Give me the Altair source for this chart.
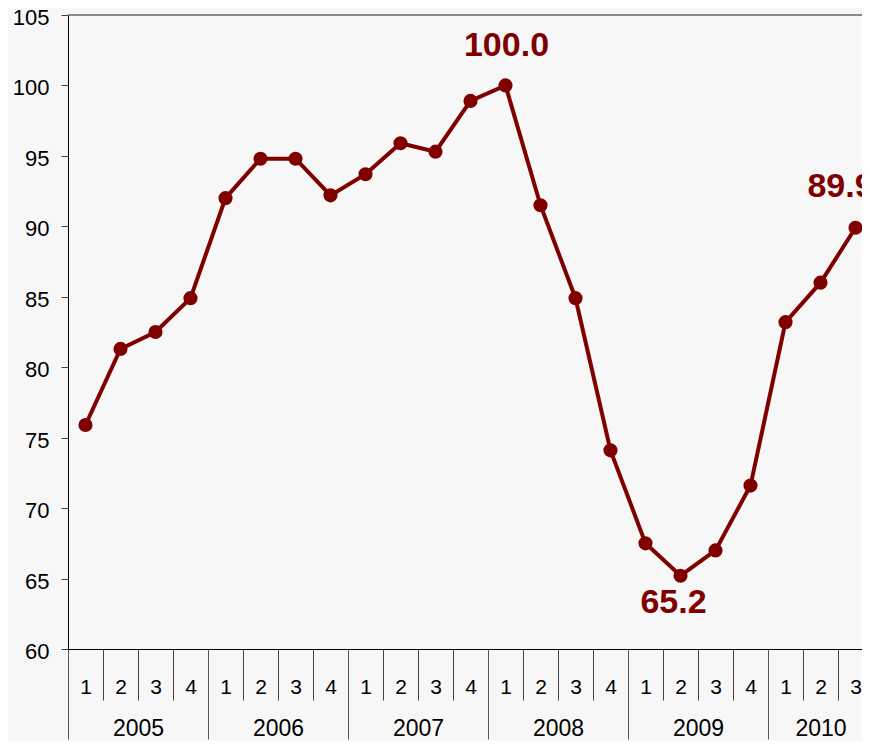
import altair as alt
import pandas as pd

# ---- data ----
years = ["2005", "2006", "2007", "2008", "2009", "2010"]
quarters_per_year = [4, 4, 4, 4, 4, 3]
values = [75.9, 81.3, 82.5, 84.9,
          92.0, 94.8, 94.8, 92.2,
          93.7, 95.9, 95.3, 98.9,
          100.0, 91.5, 84.9, 74.1,
          67.5, 65.2, 67.0, 71.6,
          83.2, 86.0, 89.9]
annotated_idx = [12, 17, 22]   # max, min, last

# ---- build table ----
rows = []
i = 0
for y, n in zip(years, quarters_per_year):
    for q in range(1, n + 1):
        rows.append({"year": y, "quarter": str(q), "pos": i + 0.5, "value": values[i]})
        i += 1
df = pd.DataFrame(rows)
df["label"] = df["value"].map(lambda v: f"{v:.1f}")

n_q = len(df)
quarter_labels = list(df["quarter"])
year_starts = []
s = 0
for n in quarters_per_year:
    year_starts.append(s)
    s += n
year_centers = [st + n / 2 for st, n in zip(year_starts, quarters_per_year)]

RED = "#800000"
FONT = "Liberation Sans"
W = 794
QW = 35.0  # pixel width of one quarter

xscale = alt.Scale(domain=[0, W / QW], nice=False, zero=False)
yscale = alt.Scale(domain=[60, 105], nice=False, zero=False)

y_axis = alt.Axis(values=list(range(60, 106, 5)), tickSize=7, labelPadding=12,
                  labelFontSize=22, labelFont=FONT, labelColor="#000",
                  labelOffset=2.5,
                  tickColor="#444", domainColor="#000", domainWidth=1,
                  grid=False, title=None)

ax_qticks = alt.Axis(orient="bottom", values=list(range(1, n_q)), tickSize=51,
                     tickColor="#444", tickWidth=1, labels=False, domain=True,
                     domainColor="#000", domainWidth=1, grid=False, title=None)
ax_yticks = alt.Axis(orient="bottom", values=year_starts, tickSize=90,
                     tickColor="#555", tickWidth=1, labels=False, domain=False,
                     grid=False, title=None)
q_arr = "[" + ",".join(f"'{q}'" for q in quarter_labels) + "]"
ax_qlabels = alt.Axis(orient="bottom", values=[k + 0.5 for k in range(n_q)],
                      ticks=False, domain=False, grid=False, title=None,
                      labelExpr=f"{q_arr}[floor(datum.value)]",
                      labelPadding=44, labelBaseline="alphabetic",
                      labelFontSize=21, labelFont=FONT, labelColor="#000",
                      labelFlush=False, labelOverlap=False)
y_arr = "[" + ",".join(f"'{y}'" for y in years) + "]"
ax_ylabels = alt.Axis(orient="bottom", values=year_centers,
                      ticks=False, domain=False, grid=False, title=None,
                      labelExpr=f"{y_arr}[floor(datum.value / 4)]",
                      labelPadding=86, labelBaseline="alphabetic",
                      labelFontSize=23, labelFont=FONT, labelColor="#000",
                      labelFlush=False, labelOverlap=False)

base = alt.Chart(df)

line = base.mark_line(color=RED, strokeWidth=4).encode(
    x=alt.X("pos:Q", scale=xscale, axis=ax_qticks),
    y=alt.Y("value:Q", scale=yscale, axis=y_axis))

top_rule = alt.Chart(pd.DataFrame({"v": [105]})).mark_rule(
    color="#666", strokeWidth=1.5).encode(
    y=alt.Y("v:Q", scale=yscale, axis=y_axis))

pts = base.mark_point(filled=True, color=RED, size=200, opacity=1).encode(
    x=alt.X("pos:Q", scale=xscale, axis=ax_yticks),
    y=alt.Y("value:Q", scale=yscale, axis=y_axis))

def ann(idx, dx, dy, axis):
    return alt.Chart(df.iloc[[idx]]).mark_text(
        font=FONT, fontSize=34, fontWeight="bold", color=RED,
        baseline="alphabetic", align="center", dx=dx, dy=dy).encode(
        x=alt.X("pos:Q", scale=xscale, axis=axis),
        y=alt.Y("value:Q", scale=yscale, axis=y_axis),
        text="label:N")

t_max = ann(annotated_idx[0], 1, -29, ax_qlabels)
t_min = ann(annotated_idx[1], -7, 37, ax_ylabels)
t_last = ann(annotated_idx[2], -15, -31, None)

chart = alt.layer(line, top_rule, pts, t_max, t_min, t_last).resolve_axis(
    x="independent"
).properties(
    width=W, height=634,
    padding={"left": 60, "top": 7, "right": 0, "bottom": 92},
    autosize=alt.AutoSizeParams(type="none"),
    background="#f7f7f7",
).configure_view(stroke=None)

chart.save("out.html", embed_options={"renderer": "svg", "actions": False})
